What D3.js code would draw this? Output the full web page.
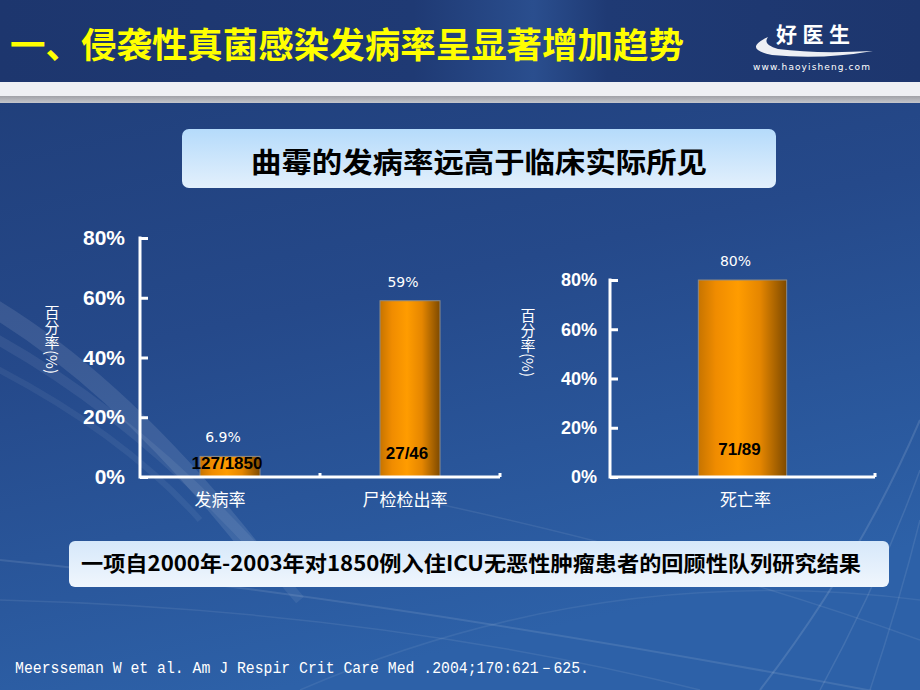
<!DOCTYPE html>
<html><head><meta charset="utf-8">
<script src="https://cdn.jsdelivr.net/npm/d3@7"></script>
<style>html,body{margin:0;padding:0;background:#23457f;}svg{display:block;}</style>
</head><body>
<script>
// ---- data ----
const leftCategories = ["发病率", "尸检检出率"];
const leftValues = [6.9, 59];
const leftValueLabels = ["6.9%", "59%"];
const leftCountLabels = ["127/1850", "27/46"];
const rightCategories = ["死亡率"];
const rightValues = [80];
const rightValueLabels = ["80%"];
const rightCountLabels = ["71/89"];
const yTicks = [0, 20, 40, 60, 80];
const yTickLabels = ["0%", "20%", "40%", "60%", "80%"];
const yAxisTitle = "百分率(%)";
const titleText = "一、侵袭性真菌感染发病率呈显著增加趋势";
const subtitleText = "曲霉的发病率远高于临床实际所见";
const noteText = "一项自2000年-2003年对1850例入住ICU无恶性肿瘤患者的回顾性队列研究结果";
const citeText = "Meersseman W et al. Am J Respir Crit Care Med .2004;170:621－625.";

const W = 920, H = 690;
const CJK = "'Noto Sans CJK SC','Noto Sans',sans-serif";
const svg = d3.select("body").append("svg").attr("width", W).attr("height", H);
const defs = svg.append("defs");

// background gradient
const bg = defs.append("linearGradient").attr("id","bg").attr("x1",0).attr("y1",0).attr("x2",0.3).attr("y2",1);
bg.append("stop").attr("offset","0").attr("stop-color","#1f3c76");
bg.append("stop").attr("offset","0.5").attr("stop-color","#25498a");
bg.append("stop").attr("offset","1").attr("stop-color","#2d61a8");
svg.append("rect").attr("width",W).attr("height",H).attr("fill","url(#bg)");

// decorative faint curves
const deco = svg.append("g").attr("fill","none").attr("stroke","#ffffff");
const curves = [
  ["M -20 300 Q 120 380 260 560", 0.10, 18],
  ["M -20 330 Q 150 420 300 600", 0.07, 10],
  ["M -20 360 Q 120 430 200 520", 0.06, 6],
  ["M 0 560 Q 400 600 920 700", 0.10, 2],
  ["M 0 600 Q 380 610 700 690", 0.08, 1.5],
  ["M 420 500 Q 700 560 920 640", 0.08, 1.5],
  ["M 920 420 Q 860 560 760 690", 0.12, 2],
  ["M 920 470 Q 880 580 820 690", 0.10, 1.5],
  ["M 920 520 Q 900 600 870 690", 0.09, 1.5],
  ["M 300 690 Q 600 560 920 600", 0.07, 1.5]
];
curves.forEach(c => deco.append("path").attr("d", c[0]).attr("stroke-opacity", c[1]).attr("stroke-width", c[2]));

// title bar
const tb = defs.append("linearGradient").attr("id","tb").attr("x1",0).attr("y1",0).attr("x2",1).attr("y2",0);
[["0","#1d366e"],["0.45","#1f3a74"],["0.58","#2a4e8e"],["0.66","#1f3a74"],["1","#1d366e"]]
  .forEach(s => tb.append("stop").attr("offset",s[0]).attr("stop-color",s[1]));
svg.append("rect").attr("x",0).attr("y",0).attr("width",W).attr("height",82).attr("fill","url(#tb)");
svg.append("rect").attr("x",0).attr("y",82).attr("width",W).attr("height",14).attr("fill","#eef0f4");
const gs = defs.append("linearGradient").attr("id","gs").attr("x1",0).attr("y1",0).attr("x2",0).attr("y2",1);
gs.append("stop").attr("offset","0").attr("stop-color","#a0a2a8");
gs.append("stop").attr("offset","1").attr("stop-color","#c4c6cc");
svg.append("rect").attr("x",0).attr("y",96).attr("width",W).attr("height",7).attr("fill","url(#gs)");

svg.append("text").attr("x",10).attr("y",58).text(titleText)
  .attr("font-family",CJK).attr("font-weight","bold").attr("font-size",35)
  .attr("fill","#ffff00").attr("textLength",674).attr("lengthAdjust","spacingAndGlyphs");

// logo
const logo = svg.append("g");
logo.append("text").attr("x",776).attr("y",42).text("好医生").attr("font-family",CJK).attr("font-weight","bold")
  .attr("font-size",21).attr("fill","#ffffff").attr("textLength",74).attr("lengthAdjust","spacing");
logo.append("path").attr("d","M 768 37 Q 742 49 772 55 Q 822 60 873 51 Q 815 54 778 49 Q 762 45 768 37 Z")
  .attr("fill","#ffffff").attr("opacity",0.92);
logo.append("text").attr("x",753).attr("y",70).text("www.haoyisheng.com").attr("font-family","'DejaVu Sans',sans-serif")
  .attr("font-size",9).attr("fill","#ffffff").attr("textLength",117).attr("lengthAdjust","spacing");

// subtitle box
const sb = defs.append("linearGradient").attr("id","sb").attr("x1",0).attr("y1",0).attr("x2",0).attr("y2",1);
sb.append("stop").attr("offset","0").attr("stop-color","#b5dbfb");
sb.append("stop").attr("offset","1").attr("stop-color","#e3f0fc");
svg.append("rect").attr("x",182).attr("y",129).attr("width",594).attr("height",59).attr("rx",7)
  .attr("fill","url(#sb)");
svg.append("text").attr("x",479).attr("y",173).attr("text-anchor","middle").text(subtitleText)
  .attr("font-family",CJK).attr("font-weight","bold").attr("font-size",28).attr("fill","#000")
  .attr("textLength",456).attr("lengthAdjust","spacingAndGlyphs");

// bar gradient
const barG = defs.append("linearGradient").attr("id","barG").attr("x1",0).attr("y1",0).attr("x2",1).attr("y2",0);
[["0","#c77400"],["0.2","#f08c00"],["0.45","#ff9c00"],["0.7","#e58600"],["1","#7e4a00"]]
  .forEach(s => barG.append("stop").attr("offset",s[0]).attr("stop-color",s[1]));

function drawChart(cfg) {
  const g = svg.append("g");
  const y = d3.scaleLinear().domain([0, 80]).range([cfg.y0, cfg.y80]);
  const x = d3.scaleBand().domain(cfg.cats).range([cfg.x0, cfg.x1]).padding(0);
  const bw = x.bandwidth() / 3;

  // y axis
  const ya = g.append("g").attr("transform", `translate(${cfg.x0},0)`)
    .call(d3.axisLeft(y).tickValues(yTicks).tickSize(-8).tickPadding(cfg.pad)
      .tickFormat((d, i) => yTickLabels[i]));
  ya.select(".domain").remove();
  ya.selectAll(".tick line").attr("stroke","#fff").attr("stroke-width",3);
  ya.selectAll(".tick text").attr("fill","#fff").attr("font-family","'Liberation Sans',Arial,sans-serif")
    .attr("font-weight","bold").attr("font-size",cfg.tickFont);
  g.append("line").attr("x1",cfg.x0).attr("x2",cfg.x0).attr("y1",cfg.y80-1.5).attr("y2",cfg.y0+1.5)
    .attr("stroke","#fff").attr("stroke-width",3);

  // bars
  g.selectAll("rect.bar").data(cfg.vals).join("rect").attr("class","bar")
    .attr("x",(d,i)=>x(cfg.cats[i]) + bw).attr("width",bw)
    .attr("y",d=>y(d)).attr("height",d=>y(0)-y(d))
    .attr("fill","url(#barG)").attr("stroke","#8a8a8a").attr("stroke-width",1);

  // x axis
  const xa = g.append("g").attr("transform",`translate(0,${cfg.y0})`)
    .call(d3.axisBottom(x).tickSize(0).tickPadding(14));
  xa.select(".domain").remove();
  xa.selectAll(".tick text").attr("fill","#fff").attr("font-family",CJK).attr("font-size",17).attr("dy","0.9em")
    .attr("dx",(d,i)=>cfg.catDx[i]);
  g.append("line").attr("x1",cfg.x0).attr("x2",cfg.x1).attr("y1",cfg.y0).attr("y2",cfg.y0)
    .attr("stroke","#fff").attr("stroke-width",3);
  // small boundary ticks
  cfg.cats.forEach(c => {
    g.append("line").attr("x1",x(c)+x.bandwidth()).attr("x2",x(c)+x.bandwidth())
      .attr("y1",cfg.y0).attr("y2",cfg.y0-4).attr("stroke","#fff").attr("stroke-width",3);
  });

  // value labels
  g.selectAll("text.val").data(cfg.vals).join("text").attr("class","val")
    .attr("x",(d,i)=>x(cfg.cats[i]) + x.bandwidth()/2 - 7).attr("y",d=>y(d) - 14)
    .attr("text-anchor","middle").attr("fill","#fff").attr("font-family","'DejaVu Sans',sans-serif")
    .attr("font-size",14).text((d,i)=>cfg.valLabels[i]);
  // count labels
  g.selectAll("text.cnt").data(cfg.vals).join("text").attr("class","cnt")
    .attr("x",(d,i)=>x(cfg.cats[i]) + x.bandwidth()/2 - 3).attr("y",(d,i)=>cfg.y0 - cfg.cntOff[i])
    .attr("text-anchor","middle").attr("fill","#000").attr("font-family","'Liberation Sans',Arial,sans-serif")
    .attr("font-weight","bold").attr("font-size",17).text((d,i)=>cfg.cntLabels[i]);

  // y title (vertical)
  g.append("text").attr("x",cfg.titleX).attr("y",cfg.titleY).text(yAxisTitle)
    .style("writing-mode","vertical-rl").attr("fill","#fff").attr("font-family",CJK).attr("font-size",15);
}

drawChart({cats:leftCategories, vals:leftValues, valLabels:leftValueLabels, cntLabels:leftCountLabels,
  x0:140, x1:500, y0:477, y80:238, pad:15, tickFont:21, cntOff:[8,18], catDx:[-10,-5], titleX:52, titleY:305});
drawChart({cats:rightCategories, vals:rightValues, valLabels:rightValueLabels, cntLabels:rightCountLabels,
  x0:610, x1:875, y0:477, y80:280, pad:13, tickFont:18, cntOff:[22], catDx:[3], titleX:528, titleY:308});

// note box
const nb = defs.append("linearGradient").attr("id","nb").attr("x1",0).attr("y1",0).attr("x2",0).attr("y2",1);
nb.append("stop").attr("offset","0").attr("stop-color","#d6e8fa");
nb.append("stop").attr("offset","1").attr("stop-color","#f0f6fd");
svg.append("rect").attr("x",69).attr("y",541).attr("width",820).attr("height",46).attr("rx",6).attr("fill","url(#nb)");
svg.append("text").attr("x",81).attr("y",571).text(noteText).attr("font-family",CJK).attr("font-weight","bold")
  .attr("font-size",21).attr("fill","#000").attr("textLength",780).attr("lengthAdjust","spacingAndGlyphs");

// citation
svg.append("text").attr("x",15).attr("y",673).text(citeText).attr("font-family","'Liberation Mono',monospace")
  .attr("font-size",16).attr("fill","#fff").attr("textLength",574).attr("lengthAdjust","spacingAndGlyphs");
</script>
</body></html>
